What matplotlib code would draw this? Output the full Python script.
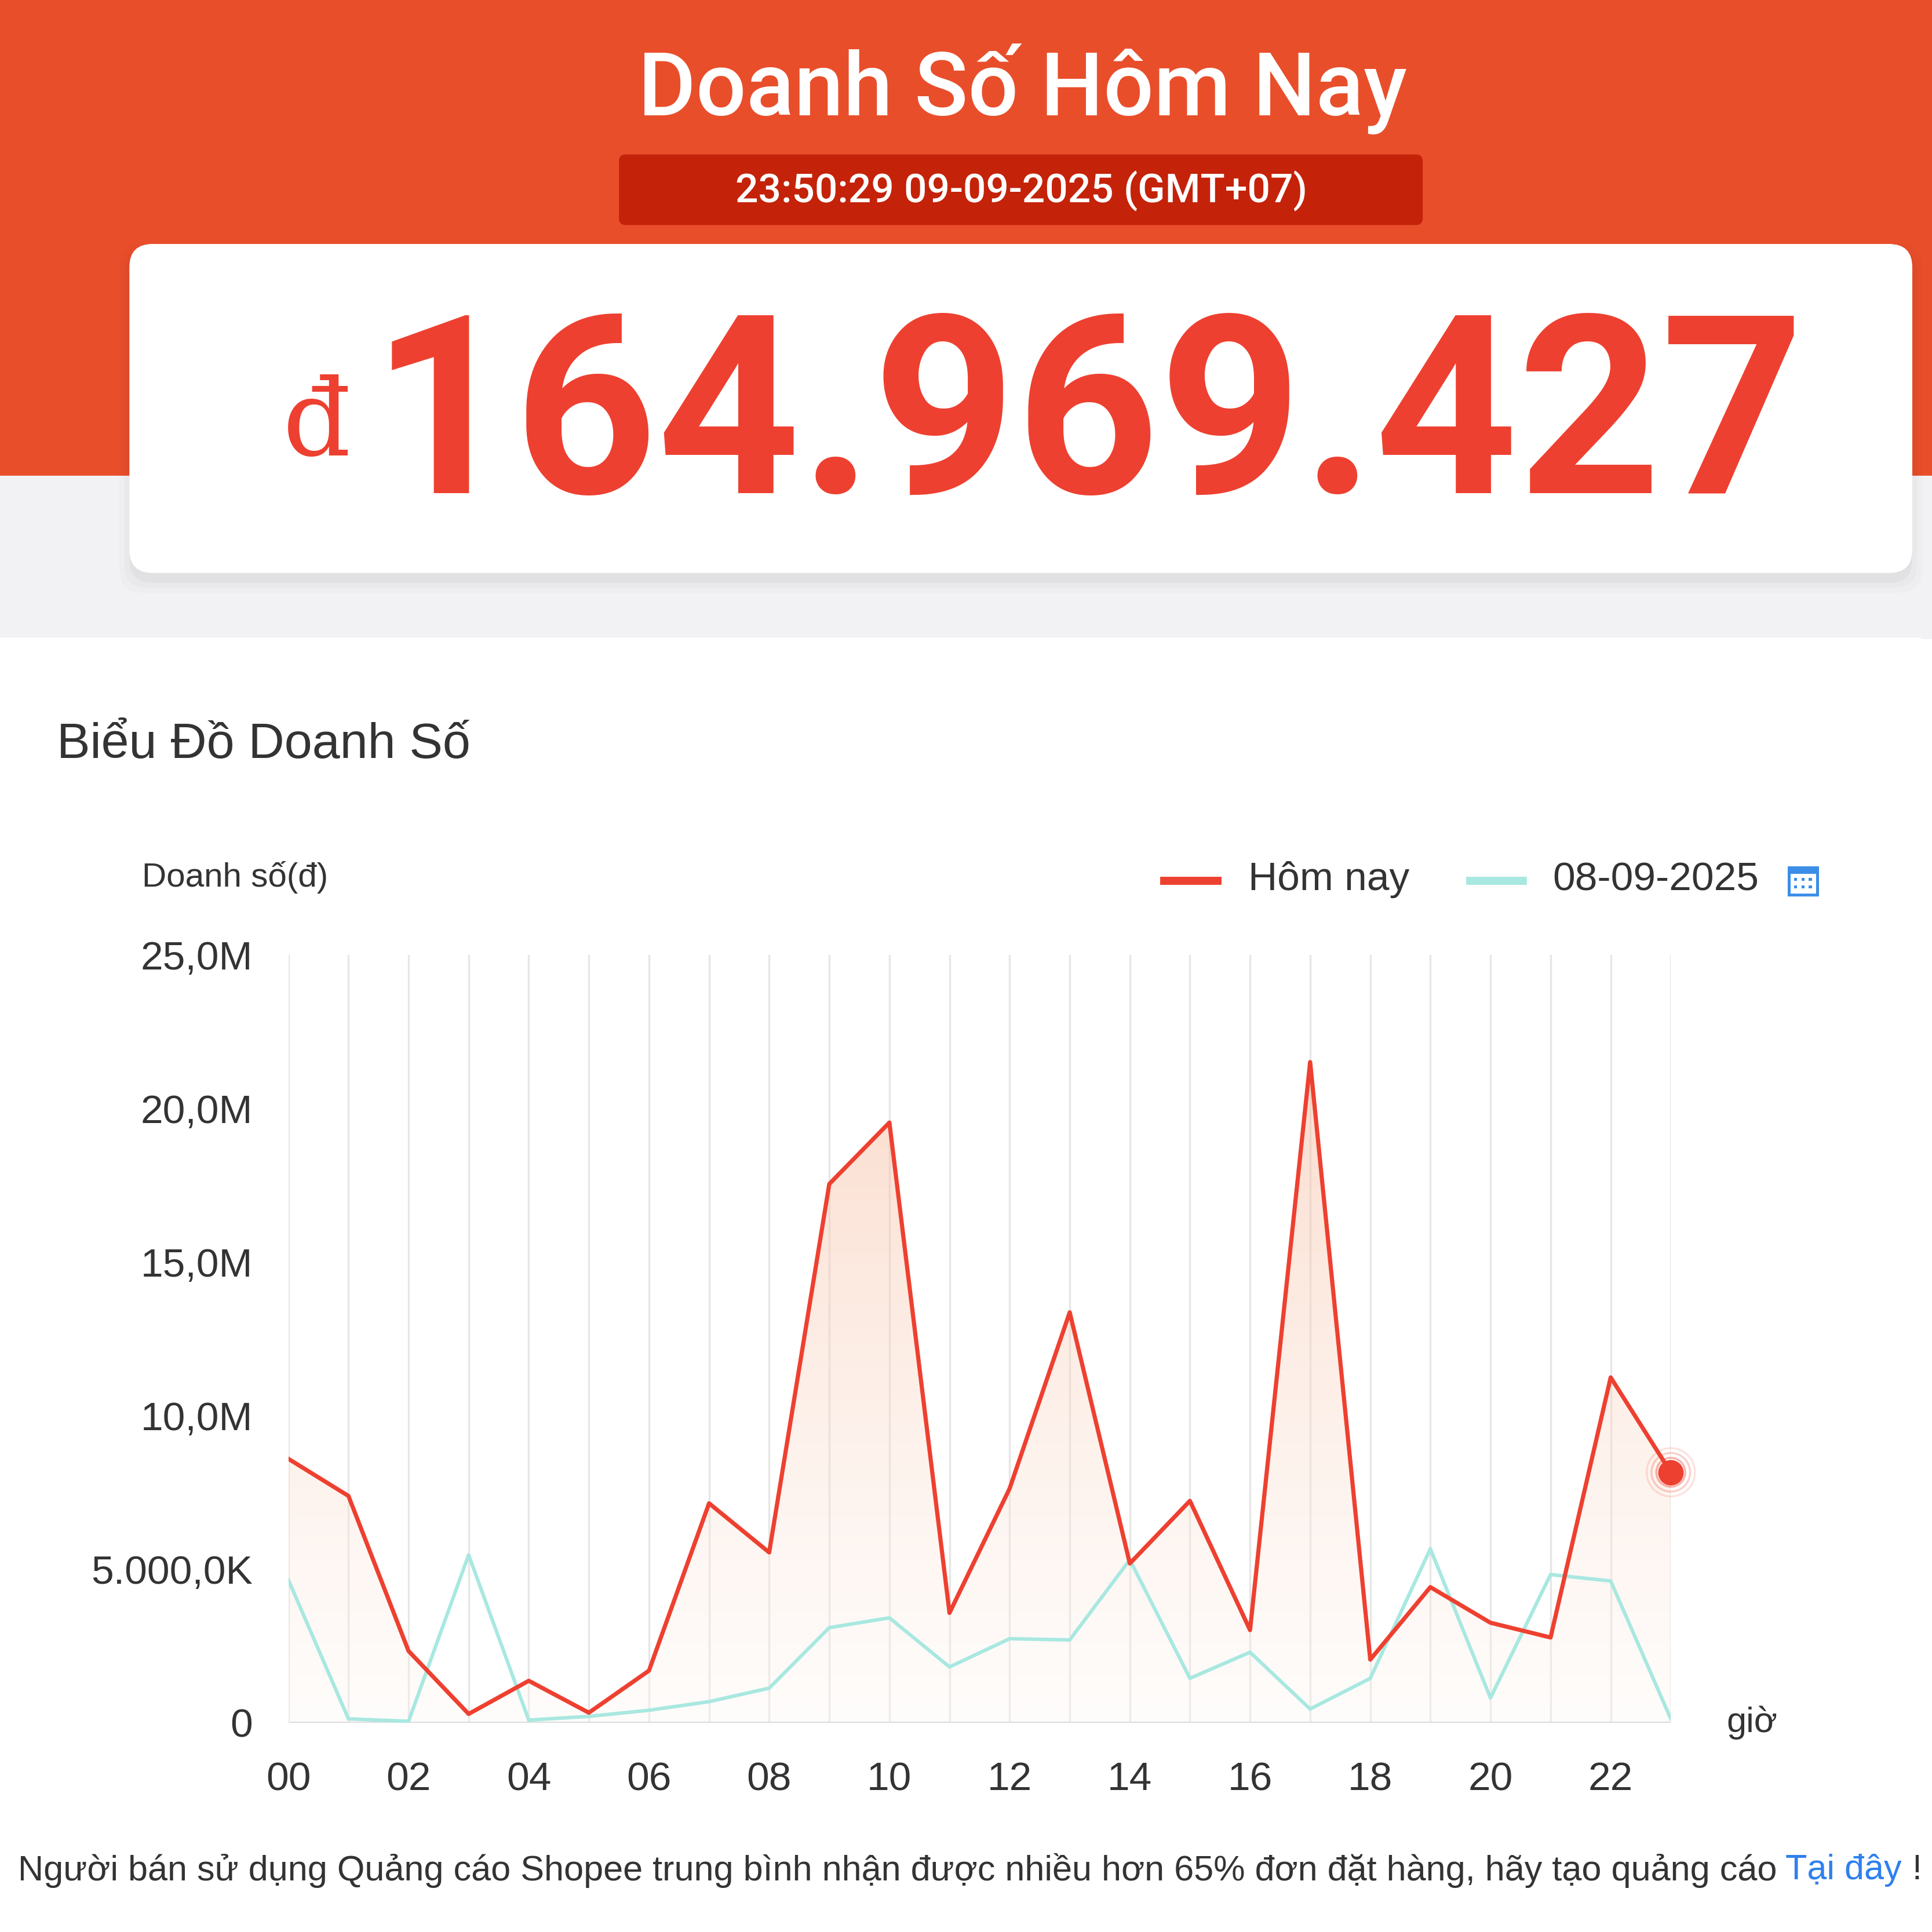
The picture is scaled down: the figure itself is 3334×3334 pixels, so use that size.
import matplotlib
matplotlib.use("Agg")
import matplotlib.pyplot as plt
import numpy as np
from matplotlib.patches import Rectangle, FancyBboxPatch, Polygon
from matplotlib.colors import LinearSegmentedColormap

hours = list(range(24))
xtick_labels = ["00","02","04","06","08","10","12","14","16","18","20","22"]
today = [8.59,7.38,2.33,0.28,1.36,0.32,1.69,7.14,5.54,17.54,19.54,3.57,7.62,13.36,5.18,7.22,3.01,21.51,2.05,4.41,3.25,2.77,11.24,8.15]
yesterday = [4.65,0.12,0.04,5.46,0.08,0.20,0.40,0.68,1.12,3.09,3.41,1.81,2.73,2.69,5.30,1.44,2.29,0.44,1.44,5.66,0.80,4.82,4.61,0.12]
ytick_vals = [0,5,10,15,20,25]
ytick_labels = ["0","5.000,0K","10,0M","15,0M","20,0M","25,0M"]

plt.rcParams['font.family'] = ['Liberation Sans', 'DejaVu Sans']
fig = plt.figure(figsize=(16.67,16.67), dpi=200)
W = 1568.0
def fx(p): return p/W
def fy(p): return 1-p/W

bg = fig.add_axes([0,0,1,1]); bg.set_xlim(0,1); bg.set_ylim(0,1); bg.axis('off')
bg.add_patch(Rectangle((0,fy(518)),1,1,color='#F2F2F4'))
bg.add_patch(Rectangle((0,fy(385)),1,1,color='#E94E2B'))
bg.add_patch(Rectangle((0,0),fx(1558),fy(518),color='white'))
bg.text(fx(830),fy(72),"Doanh Số Hôm Nay",color='white',fontsize=55,ha='center',va='center',fontweight='medium',family=['Roboto','DejaVu Sans'])
bg.add_patch(FancyBboxPatch((fx(503),fy(182)),fx(651),fx(56),boxstyle="round,pad=0,rounding_size=0.003",color='#C42209'))
bg.text(fx(829),fy(155),"23:50:29 09-09-2025 (GMT+07)",color='white',fontsize=25,ha='center',va='center',family=['Roboto','DejaVu Sans'],fontweight='medium')
for i,a in enumerate([0.03,0.02,0.015]):
    bg.add_patch(FancyBboxPatch((fx(105-4*i),fy(465+8+4*i)),fx(1447+8*i),fx(267+8*i),boxstyle="round,pad=0,rounding_size=0.012",color='black',alpha=a,lw=0))
bg.add_patch(FancyBboxPatch((fx(105),fy(465)),fx(1447),fx(267),boxstyle="round,pad=0,rounding_size=0.012",color='white',lw=0))
bg.text(fx(257),fy(345),"đ",color='#EE4030',fontsize=66,ha='center',va='center',family='DejaVu Serif')
bg.text(fx(883),fy(345),"164.969.427",color='#EE4030',fontsize=155,ha='center',va='center',fontweight='bold',family=['Roboto','DejaVu Sans'])
bg.text(fx(46),fy(605),"Biểu Đồ Doanh Số",color='#333333',fontsize=31,ha='left',va='center')
bg.text(fx(115),fy(712),"Doanh số(đ)",color='#333333',fontsize=21,ha='left',va='center')
bg.plot([fx(945),fx(988)],[fy(715)]*2,color='#EE4030',lw=5)
bg.text(fx(1013),fy(714),"Hôm nay",color='#333333',fontsize=25,ha='left',va='center')
bg.plot([fx(1193),fx(1236)],[fy(715)]*2,color='#A8E8E0',lw=5)
bg.text(fx(1260),fy(714),"08-09-2025",color='#333333',fontsize=25,ha='left',va='center')
bg.add_patch(Rectangle((fx(1452),fy(726)),fx(23),fx(22),facecolor='none',edgecolor='#3B8EE8',lw=1.8))
bg.add_patch(Rectangle((fx(1452),fy(709)),fx(23),fx(5),facecolor='#3B8EE8',edgecolor='none'))
for cx in [1457,1463,1469]:
    for cy in [714,720]:
        bg.add_patch(Rectangle((fx(cx-1),fy(cy+1)),fx(2.5),fx(2.5),color='#3B8EE8',lw=0))
bg.text(fx(1422),fy(1398),"giờ",color='#333333',fontsize=22,ha='center',va='center')
bg.text(fx(1442),fy(1518),"Người bán sử dụng Quảng cáo Shopee trung bình nhận được nhiều hơn 65% đơn đặt hàng, hãy tạo quảng cáo",color='#333333',fontsize=22,ha='right',va='center')
bg.text(fx(1449),fy(1518),"Tại đây",color='#2F80ED',fontsize=22,ha='left',va='center')
bg.text(fx(1552),fy(1518),"!",color='#333333',fontsize=22,ha='left',va='center')

ax = fig.add_axes([fx(234),fy(1398),fx(1356-234),fx(1398-775)])
ax.set_xlim(0,23); ax.set_ylim(0,25)
for h in hours:
    ax.axvline(h,color='#E6E6E6',lw=1.2,zorder=0)
ax.axhline(0,color='#DDDDDD',lw=1.5)
for s in ax.spines.values(): s.set_visible(False)
grad = np.linspace(0,1,256).reshape(-1,1)
cmap = LinearSegmentedColormap.from_list('g',[(1.0,0.97,0.95,0.3),(0.97,0.72,0.6,0.5)])
im = ax.imshow(grad,extent=[0,23,0,22],origin='lower',aspect='auto',cmap=cmap,zorder=1)
poly = Polygon(list(zip(hours,today))+[(23,0),(0,0)],closed=True,transform=ax.transData,facecolor='none',edgecolor='none')
ax.add_patch(poly); im.set_clip_path(poly)
ax.plot(hours,yesterday,color='#A8E8E0',lw=2.2,zorder=2)
ax.plot(hours,today,color='#EE4030',lw=2.6,zorder=3)
for r,a in [(30,0.15),(24,0.25),(18,0.4)]:
    ax.scatter([23],[today[-1]],s=r**2,facecolor='none',edgecolor='#EE4030',alpha=a,lw=1.2,zorder=4,clip_on=False)
ax.scatter([23],[today[-1]],s=220,color='#EE4030',zorder=5,clip_on=False)
ax.set_xticks(list(range(0,24,2))); ax.set_xticklabels(xtick_labels,fontsize=25,color='#333333')
ax.set_yticks(ytick_vals); ax.set_yticklabels(ytick_labels,fontsize=25,color='#333333')
ax.tick_params(length=0)
ax.tick_params(axis='x',pad=24)
ax.tick_params(axis='y',pad=22)
ax.set_facecolor('none')
fig.savefig("out.png",dpi=200)
